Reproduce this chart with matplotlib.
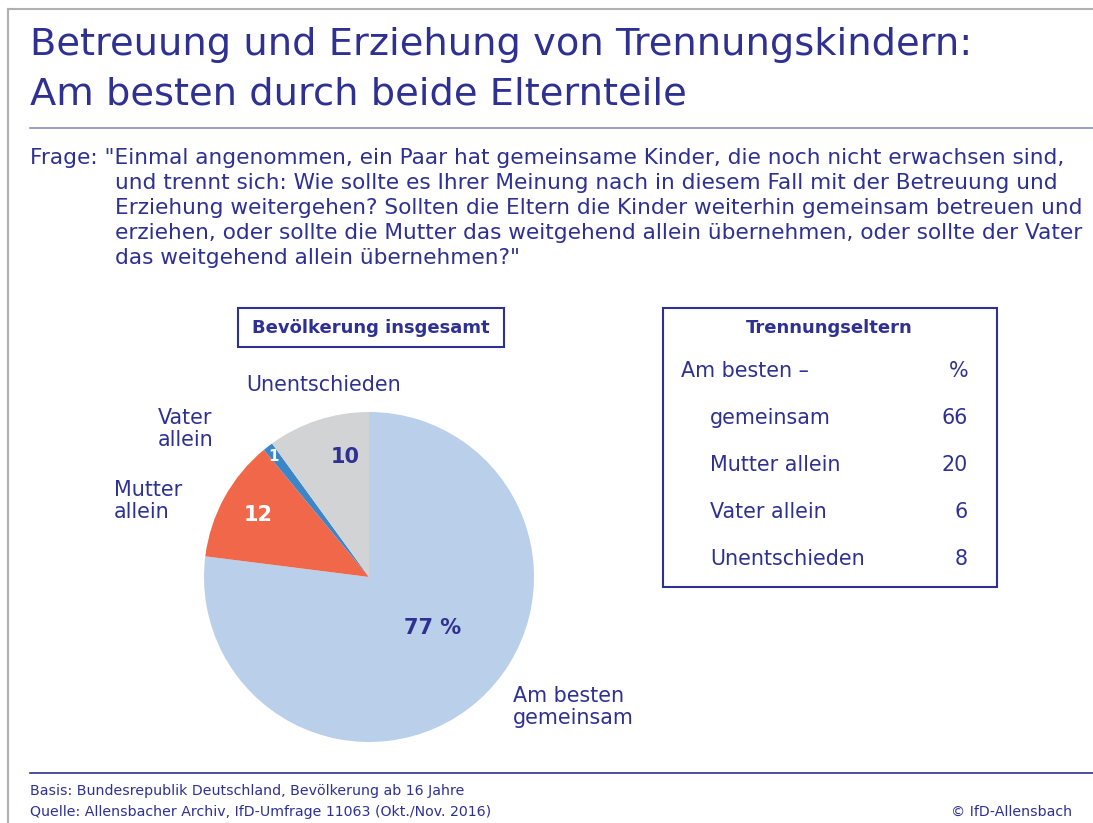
import matplotlib
matplotlib.use("Agg")
import matplotlib.pyplot as plt
from matplotlib.patches import Rectangle

plt.rcParams['font.family'] = ['DejaVu Sans']

# ---- data ----
title_lines = ["Betreuung und Erziehung von Trennungskindern:",
               "Am besten durch beide Elternteile"]
question_lines = ['Frage: "Einmal angenommen, ein Paar hat gemeinsame Kinder, die noch nicht erwachsen sind,',
                  'und trennt sich: Wie sollte es Ihrer Meinung nach in diesem Fall mit der Betreuung und',
                  'Erziehung weitergehen? Sollten die Eltern die Kinder weiterhin gemeinsam betreuen und',
                  'erziehen, oder sollte die Mutter das weitgehend allein übernehmen, oder sollte der Vater',
                  'das weitgehend allein übernehmen?"']
pie_labels = ["Am besten\ngemeinsam", "Mutter\nallein", "Vater\nallein", "Unentschieden"]
pie_values = [77, 12, 1, 10]
pie_value_texts = ["77 %", "12", "1", "10"]
pie_colors = ["#bacfe9", "#f0674a", "#3a86c8", "#d2d3d5"]
table_title = "Trennungseltern"
table_header = ["Am besten –", "%"]
table_labels = ["gemeinsam", "Mutter allein", "Vater allein", "Unentschieden"]
table_values = [66, 20, 6, 8]
footer_lines = ["Basis: Bundesrepublik Deutschland, Bevölkerung ab 16 Jahre",
                "Quelle: Allensbacher Archiv, IfD-Umfrage 11063 (Okt./Nov. 2016)"]
copyright_text = "© IfD-Allensbach"

NAVY = "#2e3192"
W, H = 1093, 823
fig = plt.figure(figsize=(W / 100, H / 100), dpi=100)
fig.patch.set_facecolor("white")

# pie axes (drawn below the text canvas)
cx, cy, r = 369, 577, 165
pax = fig.add_axes([(cx - r) / W, (H - cy - r) / H, 2 * r / W, 2 * r / H])
pax.set_zorder(1)
wedges, _ = pax.pie(pie_values, colors=pie_colors, startangle=90, counterclock=False,
                    radius=1.0, wedgeprops=dict(linewidth=0))
pax.set_xlim(-1, 1)
pax.set_ylim(-1, 1)
pax.set_aspect("equal")
pax.axis("off")

# full-figure canvas in pixel coords
bg = fig.add_axes([0, 0, 1, 1])
bg.set_zorder(2)
bg.patch.set_alpha(0)
bg.set_xlim(0, W)
bg.set_ylim(H, 0)
bg.axis("off")

# outer frame (grey)
bg.plot([8, W], [9, 9], color="#b0b0b0", lw=1.5)
bg.plot([8, 8], [9, H], color="#b0b0b0", lw=1.5)

# title
bg.text(30, 55, title_lines[0], fontsize=27.6, color=NAVY, va="baseline", ha="left")
bg.text(30, 104, title_lines[1], fontsize=27.6, color=NAVY, va="baseline", ha="left")
bg.plot([30, W], [128, 128], color="#8a8cc0", lw=1.2)

# question
qy = 164
for i, line in enumerate(question_lines):
    x = 30 if i == 0 else 115
    bg.text(x, qy + 25 * i, line, fontsize=15.6, color=NAVY, va="baseline", ha="left")

# values inside pie
bg.text(433, 628, pie_value_texts[0], fontsize=15, fontweight="bold", color=NAVY, ha="center", va="center")
bg.text(258, 515, pie_value_texts[1], fontsize=15, fontweight="bold", color="white", ha="center", va="center")
bg.text(274, 456, pie_value_texts[2], fontsize=11, fontweight="bold", color="white", ha="center", va="center")
bg.text(345, 457, pie_value_texts[3], fontsize=15, fontweight="bold", color=NAVY, ha="center", va="center")

# outer labels
LS = 1.15
bg.text(513, 707, pie_labels[0], fontsize=14.9, color=NAVY, ha="left", va="center", linespacing=LS)
bg.text(114, 501, pie_labels[1], fontsize=14.9, color=NAVY, ha="left", va="center", linespacing=LS)
bg.text(158, 429, pie_labels[2], fontsize=14.9, color=NAVY, ha="left", va="center", linespacing=LS)
bg.text(246, 385, pie_labels[3], fontsize=14.9, color=NAVY, ha="left", va="center")

# box "Bevölkerung insgesamt"
bg.add_patch(Rectangle((238, 308), 266, 39, fill=False, edgecolor=NAVY, lw=1.5))
bg.text(371, 328, "Bevölkerung insgesamt", fontsize=13, fontweight="bold", color=NAVY, ha="center", va="center")

# table box
bg.add_patch(Rectangle((663, 308), 334, 279, fill=False, edgecolor=NAVY, lw=1.5))
bg.text(829, 328, table_title, fontsize=13, fontweight="bold", color=NAVY, ha="center", va="center")
bg.text(681, 371, table_header[0], fontsize=14.9, color=NAVY, ha="left", va="center")
bg.text(968, 371, table_header[1], fontsize=14.9, color=NAVY, ha="right", va="center")
for i, (lab, val) in enumerate(zip(table_labels, table_values)):
    y = 418 + 47 * i
    bg.text(710, y, lab, fontsize=14.9, color=NAVY, ha="left", va="center")
    bg.text(968, y, str(val), fontsize=14.9, color=NAVY, ha="right", va="center")

# footer
bg.plot([30, W], [773, 773], color=NAVY, lw=1.2)
bg.text(30, 791, footer_lines[0], fontsize=10.2, color=NAVY, ha="left", va="center")
bg.text(30, 812, footer_lines[1], fontsize=10.2, color=NAVY, ha="left", va="center")
bg.text(1072, 812, copyright_text, fontsize=10.2, color=NAVY, ha="right", va="center")

fig.savefig("out.png", dpi=100, facecolor="white")
